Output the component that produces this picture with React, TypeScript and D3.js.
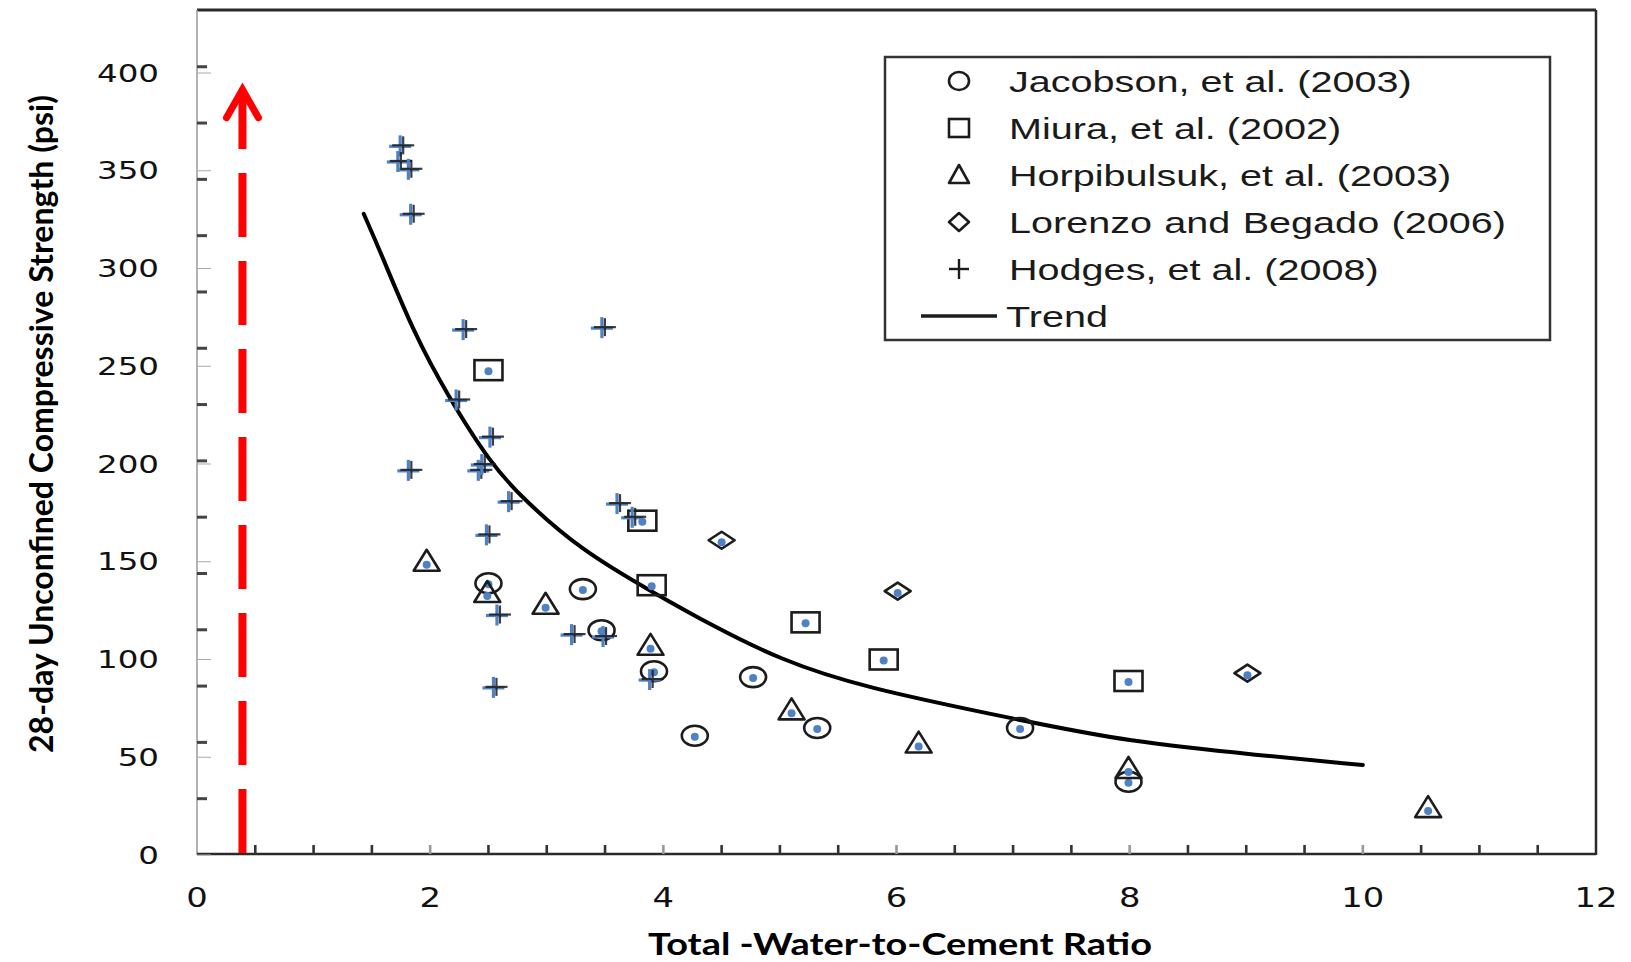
import React from "react";
import * as d3 from "d3";

const W = 1631;
const H = 962;

// Axis tick labels
const xTickLabels = [0, 2, 4, 6, 8, 10, 12];
const yTickLabels = [0, 50, 100, 150, 200, 250, 300, 350, 400];
const xMinorStep = 0.5;
const yMinorStep = 28.8;

// Jacobson, et al. (2003)
const jacobsonX = [2.5, 3.31, 3.47, 3.92, 4.27, 4.77, 5.32, 7.06, 7.99];
const jacobsonY = [139, 136, 115, 94, 61, 91, 65, 65, 37.5];

// Miura, et al. (2002)
const miuraX = [2.5, 3.82, 3.9, 5.22, 5.89, 7.99];
const miuraY = [248, 171, 138, 119, 100, 89];

// Horpibulsuk, et al. (2003)
const horpibulsukX = [1.97, 2.49, 2.99, 3.89, 5.1, 6.19, 7.99, 10.56];
const horpibulsukY = [150, 134, 128, 107, 74, 57, 44, 24];

// Lorenzo and Begado (2006)
const lorenzoX = [4.5, 6.01, 9.01];
const lorenzoY = [161, 135, 93];

// Hodges, et al. (2008)
const hodgesX = [1.76, 1.74, 1.83, 1.85, 2.3, 3.49, 2.24, 2.53, 1.83, 2.43, 2.46, 2.69, 3.62, 3.75, 2.5, 2.59, 3.23, 3.5, 3.9, 2.56];
const hodgesY = [363, 355, 351, 328, 269, 270, 233, 214, 197, 197, 200, 181, 180, 173, 164, 123, 113, 112, 90, 86];

// Trend curve
const trendX = [1.43, 1.57, 1.86, 2.14, 2.52, 2.8, 3.29, 3.92, 4.43, 5.0, 5.69, 7.06, 7.98, 9.12, 10.0];
const trendY = [328, 309, 267, 236, 200, 182, 156, 134, 117, 100, 86, 69, 58, 51, 46];

// Red arrow annotation (position in data units)
const arrowX = 0.39;
const arrowTop = 392;

const legendLabels = [
  "Jacobson, et al. (2003)",
  "Miura, et al. (2002)",
  "Horpibulsuk, et al. (2003)",
  "Lorenzo and Begado (2006)",
  "Hodges, et al. (2008)",
  "Trend",
];
const legendKinds = ["circle", "square", "triangle", "diamond", "cross", "line"];

const plotLeft = 197;
const plotRight = 1596;
const plotTop = 10;
const plotBottom = 855;

const x = d3.scaleLinear().domain([0, 12]).range([plotLeft, plotRight]);
const y = d3.scaleLinear().domain([0, 400]).range([plotBottom, 73]);

const INK = "#1c1c1c";
const DOT = "#4f82c4";

type Kind = "circle" | "square" | "triangle" | "diamond" | "cross" | "line";

function Marker({ kind, cx, cy, dot = true }: { kind: Kind; cx: number; cy: number; dot?: boolean }) {
  const sw = 2.6;
  if (kind === "circle") {
    return (
      <g>
        <ellipse cx={cx} cy={cy} rx={dot ? 13 : 10} ry={dot ? 10 : 9} fill="none" stroke={INK} strokeWidth={sw} />
        {dot && <circle cx={cx} cy={cy + 1} r={4} fill={DOT} />}
      </g>
    );
  }
  if (kind === "square") {
    const w = dot ? 28 : 20;
    const h = dot ? 20 : 18;
    return (
      <g>
        <rect x={cx - w / 2} y={cy - h / 2} width={w} height={h} fill="none" stroke={INK} strokeWidth={sw} />
        {dot && <circle cx={cx} cy={cy + 1} r={4} fill={DOT} />}
      </g>
    );
  }
  if (kind === "triangle") {
    const hw = dot ? 13 : 10;
    const up = dot ? 12 : 10;
    const dn = dot ? 9 : 8;
    return (
      <g>
        <path d={`M${cx},${cy - up}L${cx + hw},${cy + dn}L${cx - hw},${cy + dn}Z`} fill="none" stroke={INK} strokeWidth={sw} strokeLinejoin="round" />
        {dot && <circle cx={cx} cy={cy + 3} r={4} fill={DOT} />}
      </g>
    );
  }
  if (kind === "diamond") {
    const hw = dot ? 13 : 10;
    const hh = dot ? 8.5 : 9;
    return (
      <g>
        <path d={`M${cx - hw},${cy}L${cx},${cy - hh}L${cx + hw},${cy}L${cx},${cy + hh}Z`} fill="none" stroke={INK} strokeWidth={sw} strokeLinejoin="round" />
        {dot && <circle cx={cx} cy={cy + 2} r={4} fill={DOT} />}
      </g>
    );
  }
  if (kind === "cross") {
    if (!dot) {
      return (
        <g stroke={INK} strokeWidth={2.4}>
          <line x1={cx - 10} y1={cy} x2={cx + 10} y2={cy} />
          <line x1={cx} y1={cy - 10} x2={cx} y2={cy + 10} />
        </g>
      );
    }
    return (
      <g>
        <g stroke={DOT} strokeWidth={3.2}>
          <line x1={cx - 13} y1={cy + 1} x2={cx + 9} y2={cy + 1} />
          <line x1={cx - 2} y1={cy - 10} x2={cx - 2} y2={cy + 11} />
        </g>
        <g stroke={INK} strokeWidth={2.2} opacity={0.85}>
          <line x1={cx - 10} y1={cy} x2={cx + 12} y2={cy} />
          <line x1={cx + 1} y1={cy - 9} x2={cx + 1} y2={cy + 9} />
        </g>
      </g>
    );
  }
  return <line x1={cx - 38} y1={cy} x2={cx + 38} y2={cy} stroke={INK} strokeWidth={3.5} />;
}

function Series({ xs, ys, kind }: { xs: number[]; ys: number[]; kind: Kind }) {
  return (
    <g>
      {xs.map((v, i) => (
        <Marker key={i} kind={kind} cx={x(v)} cy={y(ys[i])} />
      ))}
    </g>
  );
}

export default function App() {
  const trendPts: [number, number][] = trendX.map((v, i) => [v, trendY[i]]);
  const trendPath =
    d3
      .line<[number, number]>()
      .x((d) => x(d[0]))
      .y((d) => y(d[1]))
      .curve(d3.curveBasis)(trendPts) || "";

  const xMinor = d3.range(xMinorStep, 12, xMinorStep);
  const yMinor = d3.range(1, 15).map((k) => k * yMinorStep);

  const ax = x(arrowX);
  const tipY = y(arrowTop);
  const tickFont = "'DejaVu Sans', sans-serif";
  const titleFont = "Lato, 'Open Sans', sans-serif";

  const legendX0 = 885;
  const legendY0 = 57;
  const legendW = 665;
  const legendH = 283;
  const rowStep = 47;

  return (
    <svg
      width={W}
      height={H}
      viewBox={`0 0 ${W} ${H}`}
      style={{ position: "absolute", left: 0, top: 0, display: "block", background: "#fff" }}
    >
      <rect x={0} y={0} width={W} height={H} fill="#fff" />

      {/* frame */}
      <line x1={plotLeft} y1={plotTop} x2={plotRight} y2={plotTop} stroke="#2a2a2a" strokeWidth={3} />
      <line x1={plotRight} y1={plotTop} x2={plotRight} y2={plotBottom} stroke="#2a2a2a" strokeWidth={2.5} />
      <line x1={plotLeft} y1={plotTop} x2={plotLeft} y2={plotBottom} stroke="#9a9a9a" strokeWidth={1.5} />
      <line x1={plotLeft} y1={plotBottom - 1} x2={plotRight} y2={plotBottom - 1} stroke="#2a2a2a" strokeWidth={2.6} />

      {/* y ticks */}
      {yMinor.map((v) => (
        <line key={"ym" + v} x1={plotLeft} x2={plotLeft + 10} y1={y(v)} y2={y(v)} stroke="#444" strokeWidth={3} />
      ))}
      {yTickLabels.map((v) => (
        <line key={"yt" + v} x1={plotLeft} x2={plotLeft + 14} y1={y(v)} y2={y(v)} stroke="#aaa" strokeWidth={1} />
      ))}

      {/* x ticks */}
      {xMinor.map((v, i) => (
        <line
          key={"xm" + v}
          x1={x(v)}
          x2={x(v)}
          y1={plotBottom - 1}
          y2={plotBottom - 10}
          stroke={i % 4 === 3 ? "#999" : "#333"}
          strokeWidth={2.6}
        />
      ))}

      {/* tick labels */}
      {yTickLabels.map((v) => (
        <g key={"yl" + v} transform={`translate(159, ${y(v)}) scale(1.3, 1)`}>
          <text x={0} y={0} textAnchor="end" dominantBaseline="central" fontFamily={tickFont} fontSize={25} fill="#111">
            {v}
          </text>
        </g>
      ))}
      {xTickLabels.map((v) => (
        <g key={"xl" + v} transform={`translate(${x(v)}, 898) scale(1.3, 1)`}>
          <text x={0} y={0} textAnchor="middle" dominantBaseline="central" fontFamily={tickFont} fontSize={26} fill="#111">
            {v}
          </text>
        </g>
      ))}

      {/* axis titles */}
      <text
        x={900}
        y={955}
        textAnchor="middle"
        fontFamily={titleFont}
        fontWeight={700}
        fontSize={30}
        textLength={504}
        lengthAdjust="spacingAndGlyphs"
        fill="#000"
      >
        Total -Water-to-Cement Ratio
      </text>
      <text
        transform="translate(53, 424) rotate(-90)"
        textAnchor="middle"
        fontFamily={titleFont}
        fontWeight={700}
        fontSize={32}
        textLength={658}
        lengthAdjust="spacingAndGlyphs"
        fill="#000"
      >
        28-day Unconfined Compressive Strength (psi)
      </text>

      {/* trend */}
      <path d={trendPath} fill="none" stroke="#000" strokeWidth={4} strokeLinecap="round" />

      {/* data */}
      <Series xs={jacobsonX} ys={jacobsonY} kind="circle" />
      <Series xs={miuraX} ys={miuraY} kind="square" />
      <Series xs={horpibulsukX} ys={horpibulsukY} kind="triangle" />
      <Series xs={lorenzoX} ys={lorenzoY} kind="diamond" />
      <Series xs={hodgesX} ys={hodgesY} kind="cross" />

      {/* red dashed arrow */}
      <line
        x1={ax}
        x2={ax}
        y1={plotBottom - 2}
        y2={tipY + 2}
        stroke="#ff0000"
        strokeWidth={8}
        strokeDasharray="64 24"
      />
      <polyline
        points={`${ax - 16},${tipY + 29} ${ax},${tipY + 1} ${ax + 16},${tipY + 29}`}
        fill="none"
        stroke="#ff0000"
        strokeWidth={7}
        strokeLinecap="round"
        strokeLinejoin="miter"
      />

      {/* legend */}
      <rect x={legendX0} y={legendY0} width={legendW} height={legendH} fill="#fff" stroke="#333" strokeWidth={2.5} />
      {legendLabels.map((label, i) => {
        const ry = legendY0 + 24 + i * rowStep;
        return (
          <g key={label}>
            <Marker kind={legendKinds[i] as Kind} cx={959} cy={ry} dot={false} />
            <g transform={`translate(${legendKinds[i] === "line" ? 1006 : 1009}, ${ry}) scale(1.32, 1)`}>
              <text
                x={0}
                y={0}
                dominantBaseline="central"
                fontFamily="'Liberation Sans', Arial, sans-serif"
                fontSize={30}
                wordSpacing={label.startsWith("Lorenzo") ? 1 : 0}
                fill="#1a1a1a"
              >
                {label}
              </text>
            </g>
          </g>
        );
      })}
    </svg>
  );
}
